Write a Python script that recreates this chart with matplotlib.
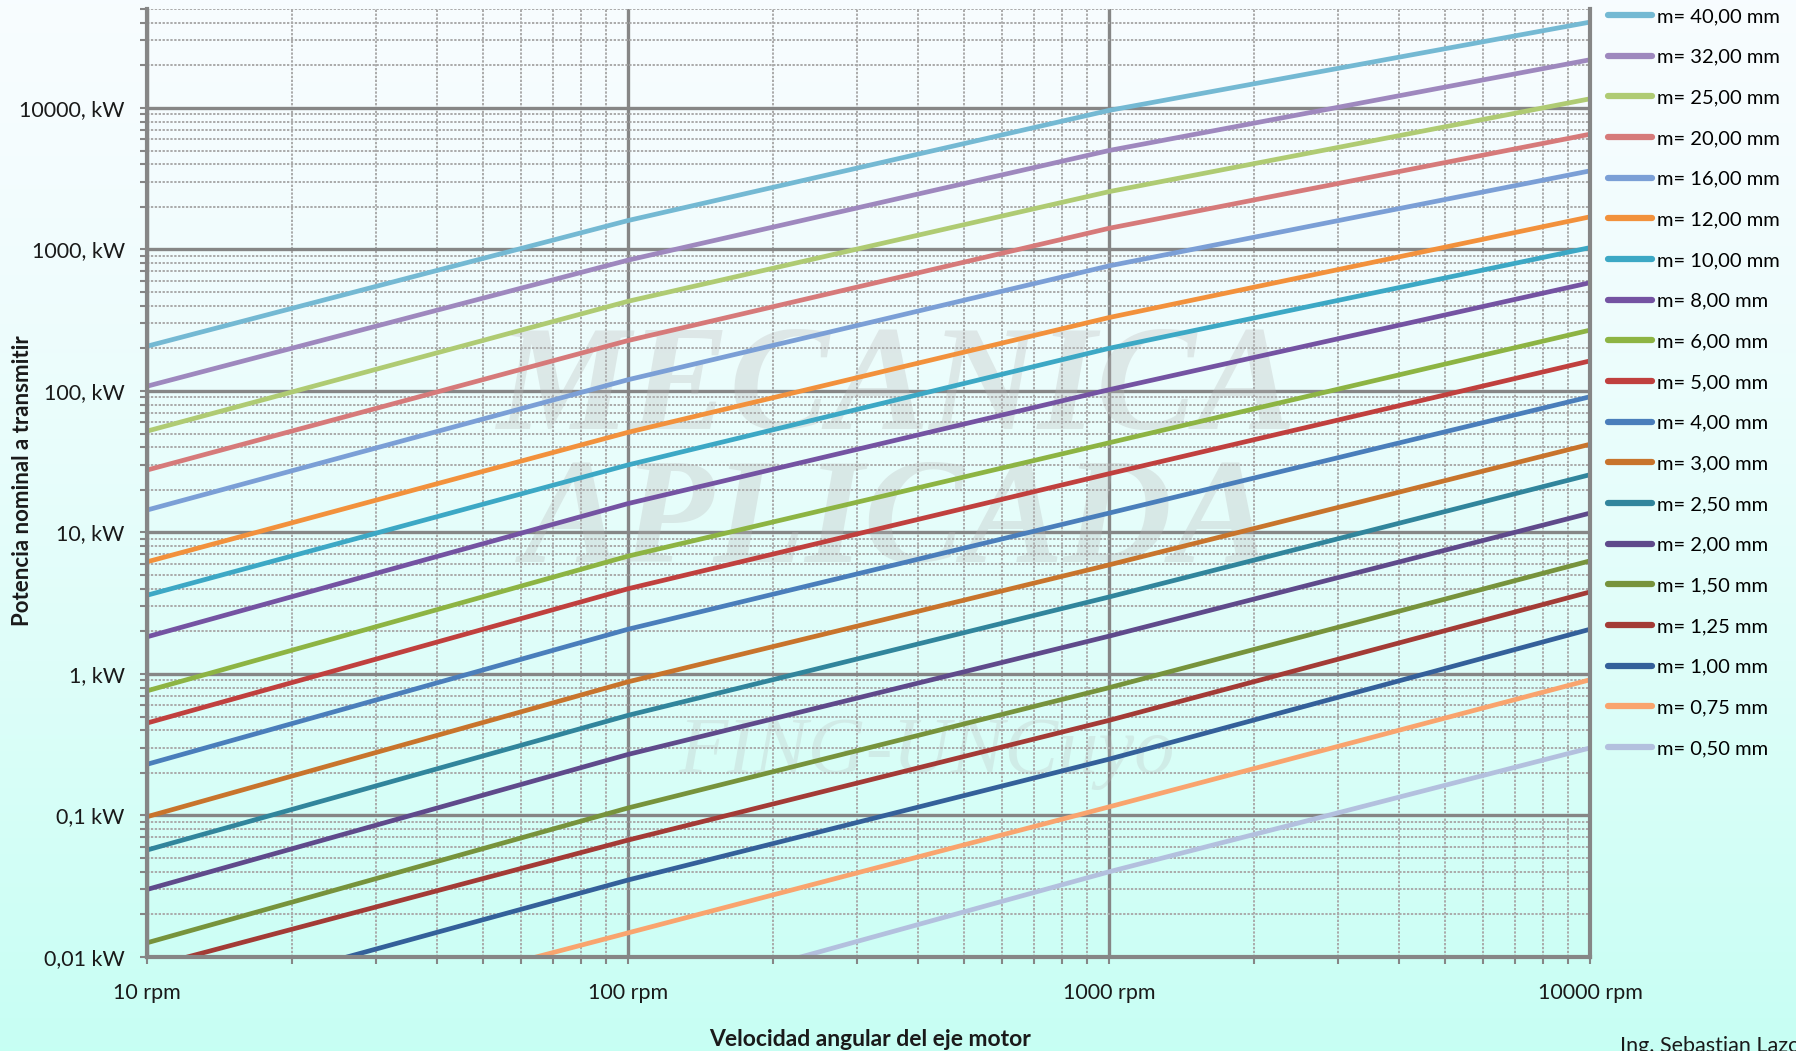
import matplotlib
matplotlib.use('Agg')
import matplotlib.pyplot as plt
import numpy as np
from matplotlib.ticker import LogLocator, FixedLocator, FixedFormatter, NullFormatter

plt.rcParams['font.family'] = ['Lato', 'DejaVu Sans']

modulos = [40.00, 32.00, 25.00, 20.00, 16.00, 12.00, 10.00, 8.00, 6.00, 5.00,
           4.00, 3.00, 2.50, 2.00, 1.50, 1.25, 1.00, 0.75, 0.50]
rpm = [10, 100, 1000, 10000]
p_10 = [207, 108, 52, 27.6, 14.4, 6.2, 3.6, 1.83, 0.76, 0.45,
        0.23, 0.098, 0.057, 0.030, 0.0126, 0.0084, 0.0041, 0.0019, 0.00049]
p_100 = [1600, 840, 430, 227, 120, 51, 30, 16, 6.8, 4.0,
         2.07, 0.88, 0.51, 0.27, 0.113, 0.067, 0.035, 0.0148, 0.0046]
p_1000 = [9600, 5000, 2560, 1410, 765, 330, 200, 102, 43, 26,
          13.7, 5.9, 3.5, 1.85, 0.80, 0.47, 0.25, 0.115, 0.040]
p_10000 = [40400, 21900, 11600, 6520, 3590, 1700, 1030, 582, 269, 163,
           91, 42, 25.6, 13.7, 6.3, 3.8, 2.07, 0.91, 0.30]
colores = ['#74B9D3', '#9E88BE', '#AFCB73', '#D67A7A', '#7B9FD6', '#F2913C',
           '#3CA8C5', '#7453A2', '#8DB443', '#C0403E', '#4A7EBB', '#C8742C',
           '#31859C', '#5F4A8B', '#77933C', '#A33B36', '#34609A', '#F9A46E',
           '#B3C0DE']

y_ticks = [0.01, 0.1, 1, 10, 100, 1000, 10000]
y_labels = ['0,01 kW', '0,1 kW', '1, kW', '10, kW', '100, kW', '1000, kW', '10000, kW']
x_ticks = [10, 100, 1000, 10000]
x_labels = ['10 rpm', '100 rpm', '1000 rpm', '10000 rpm']

W, H = 1796, 1051
fig = plt.figure(figsize=(W / 100, H / 100), dpi=100)

# fondo degradado
bg = fig.add_axes([0, 0, 1, 1], zorder=0)
t = np.linspace(0, 1, 256)[:, None] ** 1.4
top = np.array([0.97, 0.99, 1.0])
bot = np.array([0.78, 1.0, 0.955])
grad = top + (bot - top) * t[..., None]
grad = np.repeat(grad, 4, axis=1)
bg.imshow(grad, aspect='auto', extent=[0, 1, 0, 1])
bg.set_axis_off()

x0, x1, y0, y1 = 147, 1590, 9, 957
ax = fig.add_axes([x0 / W, 1 - y1 / H, (x1 - x0) / W, (y1 - y0) / H], zorder=1)
ax.set_facecolor('none')
ax.set_xscale('log')
ax.set_yscale('log')
ax.set_xlim(10, 10000)
ax.set_ylim(0.01, 50000)
ax.set_axisbelow(True)

ax.xaxis.set_major_locator(FixedLocator(x_ticks))
ax.xaxis.set_major_formatter(FixedFormatter(x_labels))
ax.yaxis.set_major_locator(FixedLocator(y_ticks))
ax.yaxis.set_major_formatter(FixedFormatter(y_labels))
for a in (ax.xaxis, ax.yaxis):
    a.set_minor_locator(LogLocator(base=10, subs=np.arange(2, 10), numticks=20))
    a.set_minor_formatter(NullFormatter())

ax.grid(which='major', color='#868686', lw=2.4, ls='-')
ax.grid(which='minor', color='#aaaaaa', lw=1.4, ls=(0, (1.2, 0.8)))
ax.tick_params(which='both', direction='out', color='#868686', length=5, width=1.5)
ax.tick_params(axis='y', which='major', pad=11, labelsize=15.5, labelcolor='#1a1a1a')
ax.tick_params(axis='x', which='major', pad=14, labelsize=15.5, labelcolor='#1a1a1a')
ax.spines['top'].set_visible(False)
for s in ['left', 'bottom', 'right']:
    ax.spines[s].set_color('#868686')
    ax.spines[s].set_linewidth(3)

# marca de agua
ax.text(0.52, 0.595, 'MECANICA', transform=ax.transAxes, ha='center', va='center',
        fontsize=108, family='Liberation Serif', style='italic', weight='bold',
        color='#b8b8b8', alpha=0.3, zorder=1.5)
ax.text(0.52, 0.455, 'APLICADA', transform=ax.transAxes, ha='center', va='center',
        fontsize=108, family='Liberation Serif', style='italic', weight='bold',
        color='#b8b8b8', alpha=0.3, zorder=1.5)
ax.text(0.54, 0.215, 'FING-UNCuyo', transform=ax.transAxes, ha='center', va='center',
        fontsize=58, family='Liberation Serif', style='italic',
        color='#b8b8b8', alpha=0.25, zorder=1.5)

for i, m in enumerate(modulos):
    p = [p_10[i], p_100[i], p_1000[i], p_10000[i]]
    lbl = f"m= {m:.2f} mm".replace('.', ',')
    ax.plot(rpm, p, color=colores[i], lw=3.4, solid_capstyle='butt', label=lbl, zorder=2)

h, l = ax.get_legend_handles_labels()
leg = fig.legend(h, l, loc='upper left', bbox_to_anchor=(1600 / W, 1 - 0 / H),
                 frameon=False, fontsize=14.5, handlelength=2.2, handletextpad=0.25,
                 labelspacing=1.17, borderaxespad=0)
for ln in leg.get_lines():
    ln.set_linewidth(4.5)
    ln.set_solid_capstyle('round')

fig.text(23 / W, 1 - 481 / H, 'Potencia nominal a transmitir', rotation=90,
         ha='center', va='center', fontsize=16, weight='bold', color='#1a1a1a')
fig.text(870 / W, 1 - 1039 / H, 'Velocidad angular del eje motor',
         ha='center', va='center', fontsize=16.5, weight='bold', color='#1a1a1a')
fig.text(1620 / W, 1 - 1036 / H, 'Ing. Sebastian Lazo', ha='left', va='top',
         fontsize=15.5, color='#1a1a1a')

fig.savefig('out.png', dpi=100)
